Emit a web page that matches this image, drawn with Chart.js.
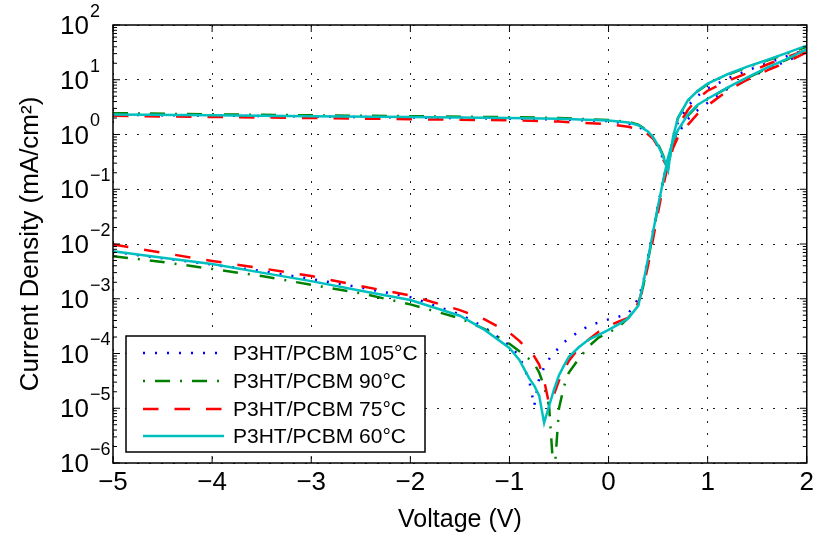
<!DOCTYPE html>
<html>
<head>
<meta charset="utf-8">
<script src="https://cdn.jsdelivr.net/npm/chart.js@4.4.1/dist/chart.umd.min.js"></script>
<style>
  html, body { margin: 0; padding: 0; background: #fff; }
  #wrap { width: 818px; height: 535px; }
</style>
</head>
<body>
<div id="wrap"><canvas id="ivChart" width="818" height="535"></canvas></div>
<script>
// Tensione (V) per le curve al buio e sotto illuminazione
const voltDark = [-5, -4.5, -4, -3.5, -3, -2.5, -2, -1.5, -1.25, -1, -0.9, -0.8, -0.75, -0.7, -0.65, -0.6, -0.55, -0.5,
  -0.45, -0.4, -0.3, -0.2, -0.1, 0, 0.1, 0.2, 0.3, 0.35, 0.4, 0.45, 0.5, 0.55, 0.6, 0.65, 0.7, 0.8, 0.9, 1, 1.2, 1.4, 1.6, 1.8, 2];
const voltLight = [-5, -4, -3, -2, -1, -0.5, 0, 0.2, 0.3, 0.4, 0.45, 0.5, 0.55, 0.6, 0.65, 0.7, 0.8, 0.9, 1, 1.2, 1.4, 1.6, 1.8, 2];

// |J| in mA/cm^2, curve al buio
const darkJ105 = [7.2e-3, 5.5e-3, 4.2e-3, 3.2e-3, 2.3e-3, 1.6e-3, 1.07e-3, 5.2e-4, 3.0e-4, 1.4e-4, 8.9e-5, 3.2e-5, 1.1e-5, 3.5e-5, 5.6e-5, 7.9e-5, 1.05e-4, 1.26e-4,
  1.6e-4, 1.9e-4, 2.5e-4, 3.2e-4, 3.7e-4, 4.2e-4, 4.7e-4, 5.4e-4, 1.0e-3, 2.0e-3, 6.0e-3, 1.8e-2, 5.2e-2, 0.14, 0.35, 0.68, 1.05, 1.9, 2.8, 3.8, 6.8, 10.5, 15.5, 22, 32];
const darkJ90 = [6.0e-3, 4.7e-3, 3.5e-3, 2.6e-3, 1.8e-3, 1.26e-3, 7.9e-4, 4.4e-4, 2.8e-4, 1.5e-4, 1.1e-4, 7.9e-5, 6.5e-5, 4.5e-5, 2.5e-5, 1.1e-5, 5.0e-7, 1.0e-5,
  2.5e-5, 4.5e-5, 8.0e-5, 1.35e-4, 1.95e-4, 2.4e-4, 3.0e-4, 4.5e-4, 7.9e-4, 1.7e-3, 5.2e-3, 1.6e-2, 4.8e-2, 0.135, 0.35, 0.72, 1.17, 2.2, 3.4, 4.4, 7.1, 10.7, 16, 23.4, 35.5];
const darkJ75 = [9.8e-3, 6.9e-3, 4.9e-3, 3.6e-3, 2.6e-3, 1.7e-3, 1.15e-3, 6.2e-4, 4.2e-4, 2.4e-4, 1.7e-4, 1.1e-4, 8.9e-5, 6.3e-5, 3.2e-5, 1.2e-5, 1.8e-5, 3.2e-5,
  5.0e-5, 7.4e-5, 1.26e-4, 1.8e-4, 2.5e-4, 3.2e-4, 3.8e-4, 4.5e-4, 8.5e-4, 1.6e-3, 4.2e-3, 1.26e-2, 3.8e-2, 0.11, 0.28, 0.56, 0.89, 1.5, 2.4, 3.4, 6.3, 10, 14.8, 21, 32];
const darkJ60 = [7.4e-3, 5.6e-3, 4.3e-3, 3.0e-3, 2.1e-3, 1.4e-3, 9.5e-4, 4.9e-4, 2.7e-4, 1.26e-4, 7.6e-5, 3.5e-5, 2.6e-5, 1.7e-5, 5.4e-6, 1.1e-5, 2.2e-5, 4.0e-5,
  6.0e-5, 8.7e-5, 1.3e-4, 1.8e-4, 2.2e-4, 2.7e-4, 3.4e-4, 4.4e-4, 7.5e-4, 1.9e-3, 5.6e-3, 1.7e-2, 5.0e-2, 0.14, 0.38, 0.76, 1.2, 2.3, 3.5, 4.5, 7.2, 11, 16.6, 24, 36];

// |J| in mA/cm^2, curve sotto luce
const lightJ105 = [2.29, 2.21, 2.14, 2.04, 1.95, 1.88, 1.76, 1.58, 1.41, 1.07, 0.85, 0.6, 0.36, 0.24, 0.83, 1.66, 3.3, 5.1, 6.9, 10.5, 14.8, 20, 27, 35.5];
const lightJ90 = [2.45, 2.34, 2.24, 2.16, 2.07, 2.0, 1.84, 1.7, 1.51, 1.15, 0.9, 0.66, 0.42, 0.23, 0.9, 2.0, 4.1, 6.2, 8.3, 12.3, 17, 22.4, 30, 40];
const lightJ75 = [2.19, 2.09, 2.0, 1.9, 1.82, 1.72, 1.55, 1.38, 1.26, 1.0, 0.83, 0.6, 0.35, 0.24, 0.71, 1.41, 2.8, 4.6, 6.3, 9.5, 13.2, 19, 26, 35];
const lightJ60 = [2.32, 2.24, 2.16, 2.09, 2.0, 1.93, 1.8, 1.66, 1.48, 1.12, 0.89, 0.63, 0.4, 0.22, 0.89, 2.0, 4.2, 6.3, 8.5, 12.6, 17.4, 23, 31, 42];

const seriesNames = ['P3HT/PCBM 105°C', 'P3HT/PCBM 90°C', 'P3HT/PCBM 75°C', 'P3HT/PCBM 60°C'];
const xTickValues = [-5, -4, -3, -2, -1, 0, 1, 2];
const yTickValues = [1e-6, 1e-5, 1e-4, 1e-3, 1e-2, 1e-1, 1e0, 1e1, 1e2];

const FONT = "'Liberation Sans', Arial, Helvetica, sans-serif";

// stili delle linee (stile MATLAB)
const styles = [
  { color: '#0000ff', dash: [2, 10], width: 2.5 },
  { color: '#008000', dash: [15, 10, 2, 10], width: 2.5 },
  { color: '#ff0000', dash: [15.5, 16], width: 2.5 },
  { color: '#00bfbf', dash: [], width: 2.5 }
];

function toPoints(xs, ys) {
  return xs.map((v, i) => ({ x: v, y: ys[i] }));
}

const darkSets = [darkJ105, darkJ90, darkJ75, darkJ60];
const lightSets = [lightJ105, lightJ90, lightJ75, lightJ60];

const datasets = [];
for (let i = 0; i < 4; i++) {
  const st = styles[i];
  datasets.push({
    label: seriesNames[i],
    data: toPoints(voltDark, darkSets[i]),
    borderColor: st.color, borderDash: st.dash, borderWidth: st.width,
    pointRadius: 0, fill: false, tension: 0, order: 4 - i
  });
  datasets.push({
    label: seriesNames[i] + ' (luce)',
    data: toPoints(voltLight, lightSets[i]),
    borderColor: st.color, borderDash: st.dash, borderWidth: st.width,
    pointRadius: 0, fill: false, tension: 0, order: 4 - i
  });
}

// Cornice, tacche interne, etichette 10^n e legenda
const framePlugin = {
  id: 'framePlugin',
  afterDatasetsDraw(chart) {
    const { ctx, chartArea: a, scales: { x, y } } = chart;
    ctx.save();
    ctx.strokeStyle = '#000';
    ctx.lineWidth = 1.5;
    ctx.setLineDash([]);
    ctx.strokeRect(a.left, a.top, a.right - a.left, a.bottom - a.top);

    ctx.beginPath();
    xTickValues.forEach(v => {
      const px = x.getPixelForValue(v);
      ctx.moveTo(px, a.bottom); ctx.lineTo(px, a.bottom - 7);
      ctx.moveTo(px, a.top); ctx.lineTo(px, a.top + 7);
    });
    yTickValues.forEach((v, k) => {
      const py = y.getPixelForValue(v);
      ctx.moveTo(a.left, py); ctx.lineTo(a.left + 7, py);
      ctx.moveTo(a.right, py); ctx.lineTo(a.right - 7, py);
      if (k < yTickValues.length - 1) {
        for (let m = 2; m <= 9; m++) {
          const pm = y.getPixelForValue(v * m);
          ctx.moveTo(a.left, pm); ctx.lineTo(a.left + 4, pm);
          ctx.moveTo(a.right, pm); ctx.lineTo(a.right - 4, pm);
        }
      }
    });
    ctx.lineWidth = 1;
    ctx.stroke();

    // etichette asse y: 10 con esponente
    ctx.fillStyle = '#000';
    yTickValues.forEach(v => {
      const py = y.getPixelForValue(v);
      const e = Math.round(Math.log10(v));
      ctx.font = '26px ' + FONT;
      ctx.textAlign = 'right';
      ctx.textBaseline = 'middle';
      ctx.fillText('10', 89, py + 2);
      ctx.font = '18px ' + FONT;
      ctx.textAlign = 'left';
      ctx.fillText(e < 0 ? '\u2212' + (-e) : String(e), 90, py - 13);
    });

    // legenda
    const bx = 126, by = 336, bw = 299, bh = 116;
    ctx.fillStyle = '#fff';
    ctx.fillRect(bx, by, bw, bh);
    ctx.strokeStyle = '#000';
    ctx.lineWidth = 1.5;
    ctx.strokeRect(bx, by, bw, bh);
    const rows = [353, 381, 409, 436];
    for (let i = 0; i < 4; i++) {
      const st = styles[i];
      ctx.beginPath();
      ctx.strokeStyle = st.color;
      ctx.lineWidth = st.width;
      ctx.setLineDash(st.dash);
      ctx.lineDashOffset = i === 1 ? 25 : 0;
      ctx.moveTo(143, rows[i]);
      ctx.lineTo(224, rows[i]);
      ctx.stroke();
      ctx.setLineDash([]);
      ctx.fillStyle = '#000';
      ctx.font = '21px ' + FONT;
      ctx.textAlign = 'left';
      ctx.textBaseline = 'middle';
      ctx.fillText(seriesNames[i], 233, rows[i] + 1);
    }
    ctx.restore();
  }
};

const ctx = document.getElementById('ivChart').getContext('2d');
new Chart(ctx, {
  type: 'line',
  data: { datasets: datasets },
  options: {
    responsive: false,
    animation: false,
    layout: { padding: { left: 0, right: 8, top: 25, bottom: 0 } },
    plugins: { legend: { display: false }, tooltip: { enabled: false } },
    scales: {
      x: {
        type: 'linear', min: -5, max: 2,
        afterBuildTicks: s => { s.ticks = xTickValues.map(v => ({ value: v })); },
        afterFit: s => { s.height = 72; },
        ticks: {
          color: '#000', padding: 4,
          font: { family: FONT, size: 26 },
          callback: v => v < 0 ? '\u2212' + Math.abs(v) : String(v)
        },
        grid: { color: '#222', lineWidth: 1, drawTicks: false },
        border: { display: false, dash: [2, 10] },
        title: { display: true, text: 'Voltage (V)', color: '#000', font: { family: FONT, size: 25 }, padding: { top: 0, bottom: 0 } }
      },
      y: {
        type: 'logarithmic', min: 1e-6, max: 1e2,
        afterBuildTicks: s => { s.ticks = yTickValues.map(v => ({ value: v })); },
        afterFit: s => { s.width = 113; },
        ticks: { display: false },
        grid: { color: '#222', lineWidth: 1, drawTicks: false },
        border: { display: false, dash: [2, 10] },
        title: { display: true, text: 'Current Density (mA/cm²)', color: '#000', font: { family: FONT, size: 26 }, padding: { top: 15, bottom: 0 } }
      }
    }
  },
  plugins: [framePlugin]
});
</script>
</body>
</html>
